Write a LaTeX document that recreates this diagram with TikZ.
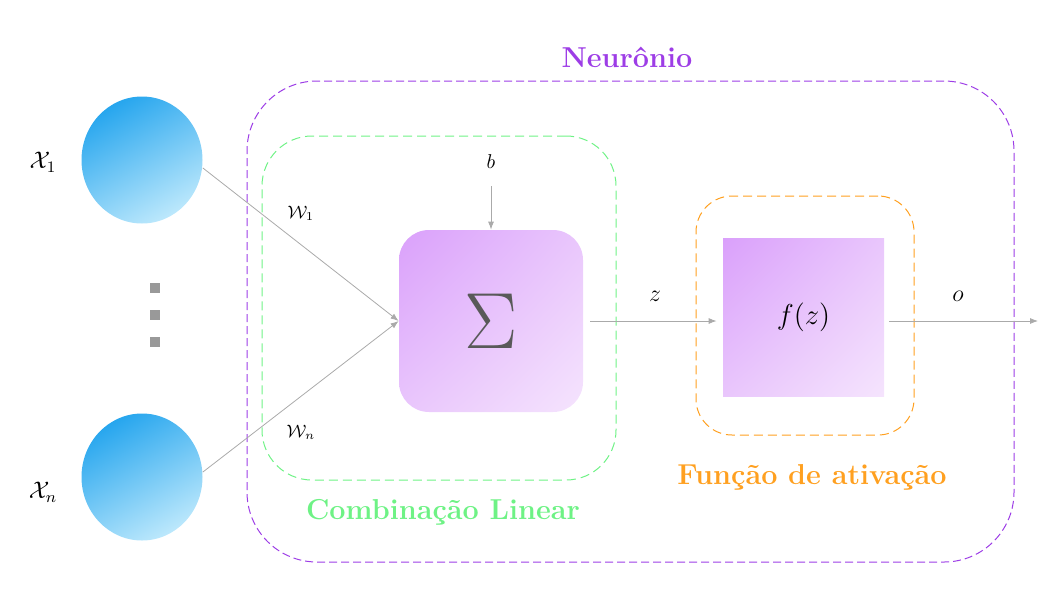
\documentclass[tikz,border=0pt]{standalone}
\usepackage{amsmath,amssymb}
\usepackage{tikz}
\usetikzlibrary{arrows.meta,positioning,shapes.geometric,shadings}
\definecolor{neuro}{HTML}{9D3DE6}
\definecolor{combi}{HTML}{6EF285}
\definecolor{ativa}{HTML}{FFA020}
\definecolor{blueA}{HTML}{27A6EE}
\definecolor{blueB}{HTML}{BCE8FC}
\definecolor{lilA}{HTML}{DAA0FB}
\definecolor{lilM}{HTML}{E9C6FC}
\definecolor{lilB}{HTML}{F5E4FD}
\definecolor{wire}{HTML}{AAAAAA}

\begin{document}
\begin{tikzpicture}[
  x=0.5pt,y=-0.5pt,>={Latex[length=4pt,width=3pt]},
  input/.style={ellipse,minimum width=60.5pt,minimum height=63.5pt,
    top color=blueA,bottom color=blueB,shading angle=30,inner sep=0pt},
  grad/.style={upper left=lilA,upper right=lilM,lower left=lilM,
    lower right=lilB,inner sep=0pt},
  frame/.style={draw,line width=0.5pt,rounded corners=#1},
  tag/.style={font=\Large\bfseries},
  link/.style={->,wire,thin},
  dot/.style={fill=black!40,minimum size=5pt,inner sep=0pt}
]
\useasboundingbox (0,0) rectangle (1058,595);
% frames
\node[frame=35pt,neuro,dash pattern=on 4pt off 2pt,minimum width=383.5pt,
  minimum height=240.5pt] (neuron) at (630.5,321.5) {};
\node[frame=25pt,combi,dash pattern=on 4.5pt off 2.5pt,minimum width=177pt,
  minimum height=172pt] (lin) at (439,308) {};
\node[frame=18pt,ativa,dash pattern=on 4.5pt off 2.5pt,minimum width=109pt,
  minimum height=119.5pt] (act) at (805,315.5) {};
\node[tag,neuro] (tneuron) at (627,57) {Neurônio};
\node[tag,combi] (tlin) at (443,512) {Combinação Linear};
\node[tag,ativa] (tact) at (812,477) {Função de ativação};
% inputs
\node[input] (x1) at (142,160) {};
\node[input] (xn) at (142,477) {};
\node (lx1) at (43,162) {\large$\mathcal{X}_1$};
\node (lxn) at (43,492) {\large$\mathcal{X}_n$};
\node[dot] (d1) at (155,288) {};
\node[dot] (d2) at (155,315) {};
\node[dot] (d3) at (155,342) {};
% blocks
\node[shade,grad,rounded corners=15pt,minimum width=92pt,minimum height=91pt]
  (sum) at (491,321) {\color{black!65}\scalebox{1.6}{\Huge$\Sigma$}};
\node[shade,grad,minimum width=80.5pt,minimum height=79pt]
  (fz) at (803.5,317) {\Large$f(z)$};
\node (b) at (491,162) {$b$};
\node (w1) at (301,213) {\small$\mathcal{W}_1$};
\node (wn) at (301,432) {\small$\mathcal{W}_n$};
\node (z) at (655,296) {\large$z$};
\node (o) at (958,296) {\large$o$};
\coordinate (out) at (1038,321);
% connectors
\draw[link] ([yshift=-4pt]x1.east) -- (sum.west);
\draw[link] ([yshift=2.5pt]xn.east) -- (sum.west);
\draw[link,shorten <=5pt] (b) -- (sum.north);
\draw[link,shorten <=3.5pt,shorten >=3pt] (sum.east) -- (sum.east -| fz.west);
\draw[link,shorten <=2.5pt] (fz.east |- sum.east) -- (out);
\end{tikzpicture}
\end{document}
